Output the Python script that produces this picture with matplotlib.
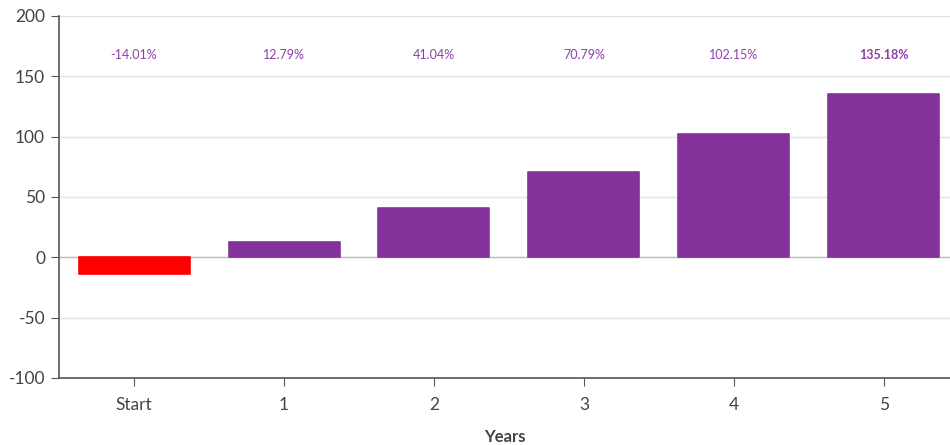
import matplotlib.pyplot as plt

# datos del grafico
categorias = ['Start', '1', '2', '3', '4', '5']
valores = [-14.01, 12.79, 41.04, 70.79, 102.15, 135.18]
etiquetas = ['-14.01%', '12.79%', '41.04%', '70.79%', '102.15%', '135.18%']

plt.rcParams['font.family'] = ['Lato', 'DejaVu Sans']
plt.rcParams['axes.unicode_minus'] = False

fig = plt.figure(figsize=(9.5, 4.45), dpi=100)
ax = fig.add_axes([59 / 950, 1 - 378 / 445, 891 / 950, 362 / 445])

morado = '#84329B'
colores = ['#FF0000' if v < 0 else morado for v in valores]
x = list(range(len(categorias)))

barras = ax.bar(x, valores, width=0.74, color=colores, edgecolor=colores,
                linewidth=1.2, zorder=3)
for b in barras:
    b.set_joinstyle('round')

# etiquetas de porcentaje arriba
for i, txt in enumerate(etiquetas):
    ax.text(i, 168, txt, ha='center', va='center', fontsize=9,
            color='#8E3FA8', fontweight='bold' if i == len(etiquetas) - 1 else 'normal',
            zorder=4)

ax.set_ylim(-100, 200)
ax.set_xlim(-0.5, 5.44)
ax.set_yticks([-100, -50, 0, 50, 100, 150, 200])
ax.set_xticks(x)
ax.set_xticklabels(categorias)

ax.grid(axis='y', color='#E3E3E3', linewidth=1, zorder=0)
ax.axhline(0, color='#BDBDBD', linewidth=1, zorder=2)

for s in ['top', 'right']:
    ax.spines[s].set_visible(False)
for s in ['left', 'bottom']:
    ax.spines[s].set_color('#555555')
    ax.spines[s].set_linewidth(1.2)

ax.tick_params(axis='y', length=6, color='#555555', labelsize=12.5, labelcolor='#444444', pad=4)
ax.tick_params(axis='x', length=6, color='#555555', labelsize=12.5, labelcolor='#444444', pad=8)

ax.set_xlabel('Years', fontsize=12, fontweight='bold', color='#444444', labelpad=11)

plt.savefig('out.png', dpi=100)
